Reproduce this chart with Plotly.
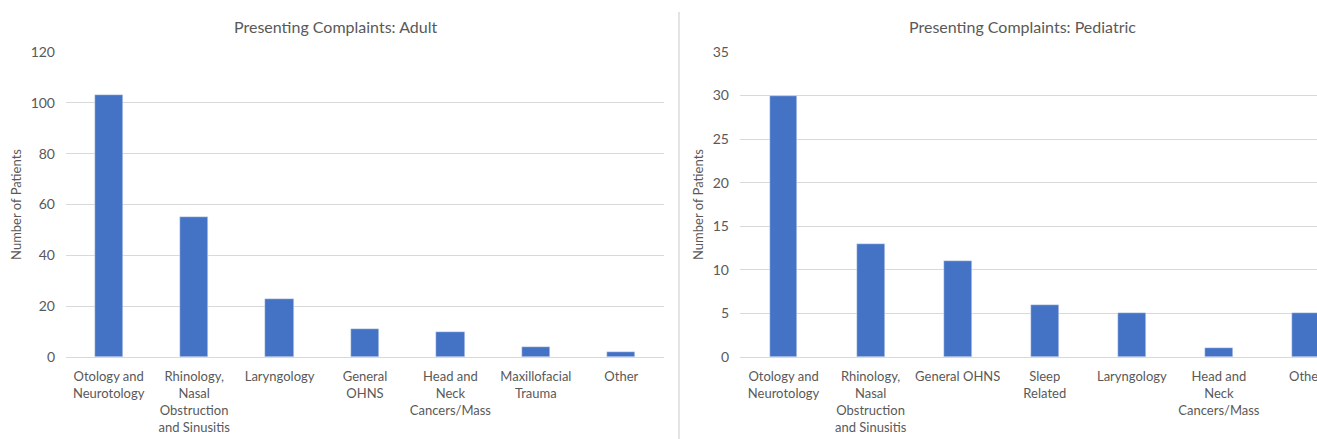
import plotly.graph_objects as go

adult_categories = ["Otology and<br>Neurotology", "Rhinology,<br>Nasal<br>Obstruction<br>and Sinusitis",
                    "Laryngology", "General<br>OHNS", "Head and<br>Neck<br>Cancers/Mass",
                    "Maxillofacial<br>Trauma", "Other"]
adult_values = [103, 55, 23, 11, 10, 4, 2]

ped_categories = ["Otology and<br>Neurotology", "Rhinology,<br>Nasal<br>Obstruction<br>and Sinusitis",
                  "General OHNS", "Sleep<br>Related", "Laryngology",
                  "Head and<br>Neck<br>Cancers/Mass", "Other"]
ped_values = [30, 13, 11, 6, 5, 1, 5]

W, H = 1317, 439
BAR = "#4472c4"
GRID = "#d9d9d9"
TXT = "#595959"
FONT = "Lato"

fig = go.Figure()
fig.add_trace(go.Bar(x=list(range(len(adult_values))), y=adult_values, marker_color=BAR,
                     width=0.33, xaxis="x", yaxis="y", showlegend=False))
fig.add_trace(go.Bar(x=list(range(len(ped_values))), y=ped_values, marker_color=BAR,
                     width=0.32, xaxis="x2", yaxis="y2", showlegend=False))

ybot = (H - 357) / H
ytop = (H - 52) / H

xcommon = dict(tickmode="array", tickfont=dict(family=FONT, size=13, color=TXT),
               showgrid=False, zeroline=False, showline=False, ticks="", fixedrange=True,
               automargin=False, ticklabeloverflow="allow", ticklabelstandoff=10)
ycommon = dict(showgrid=True, gridcolor=GRID, gridwidth=1, zeroline=True, zerolinecolor=GRID,
               zerolinewidth=1, showline=False, ticks="", ticklabelstandoff=10, automargin=False,
               tickfont=dict(family=FONT, size=14, color=TXT),
               title_font=dict(family=FONT, size=13, color=TXT), title_standoff=6)

fig.update_layout(
    width=W, height=H, margin=dict(l=0, r=0, t=0, b=0),
    paper_bgcolor="white", plot_bgcolor="white", bargap=0,
    xaxis=dict(domain=[66 / W, 664 / W], range=[-0.5, 6.5],
               tickvals=list(range(7)), ticktext=adult_categories, anchor="y", **xcommon),
    yaxis=dict(domain=[ybot, ytop], range=[0, 120], dtick=20, anchor="x",
               title_text="Number of Patients", **ycommon),
    xaxis2=dict(domain=[740 / W, 1.0], range=[-0.5, 6.5 - (1349.5 - 1317) / 87],
                tickvals=list(range(7)), ticktext=ped_categories, anchor="y2", **xcommon),
    yaxis2=dict(domain=[ybot, ytop], range=[0, 35], dtick=5, anchor="x2",
                title_text="Number of Patients", **ycommon),
    annotations=[
        dict(text="Presenting Complaints: Adult", x=335 / W, y=(H - 26) / H, xref="paper", yref="paper",
             showarrow=False, font=dict(family=FONT, size=16, color=TXT), xanchor="center", yanchor="middle"),
        dict(text="Presenting Complaints: Pediatric", x=1022 / W, y=(H - 26) / H, xref="paper", yref="paper",
             showarrow=False, font=dict(family=FONT, size=16, color=TXT), xanchor="center", yanchor="middle"),
    ],
    shapes=[
        dict(type="line", xref="paper", yref="paper", x0=679 / W, x1=679 / W, y0=0, y1=(H - 12) / H,
             line=dict(color="#e4e4e4", width=2)),
    ],
)

fig.write_html("out.html")
